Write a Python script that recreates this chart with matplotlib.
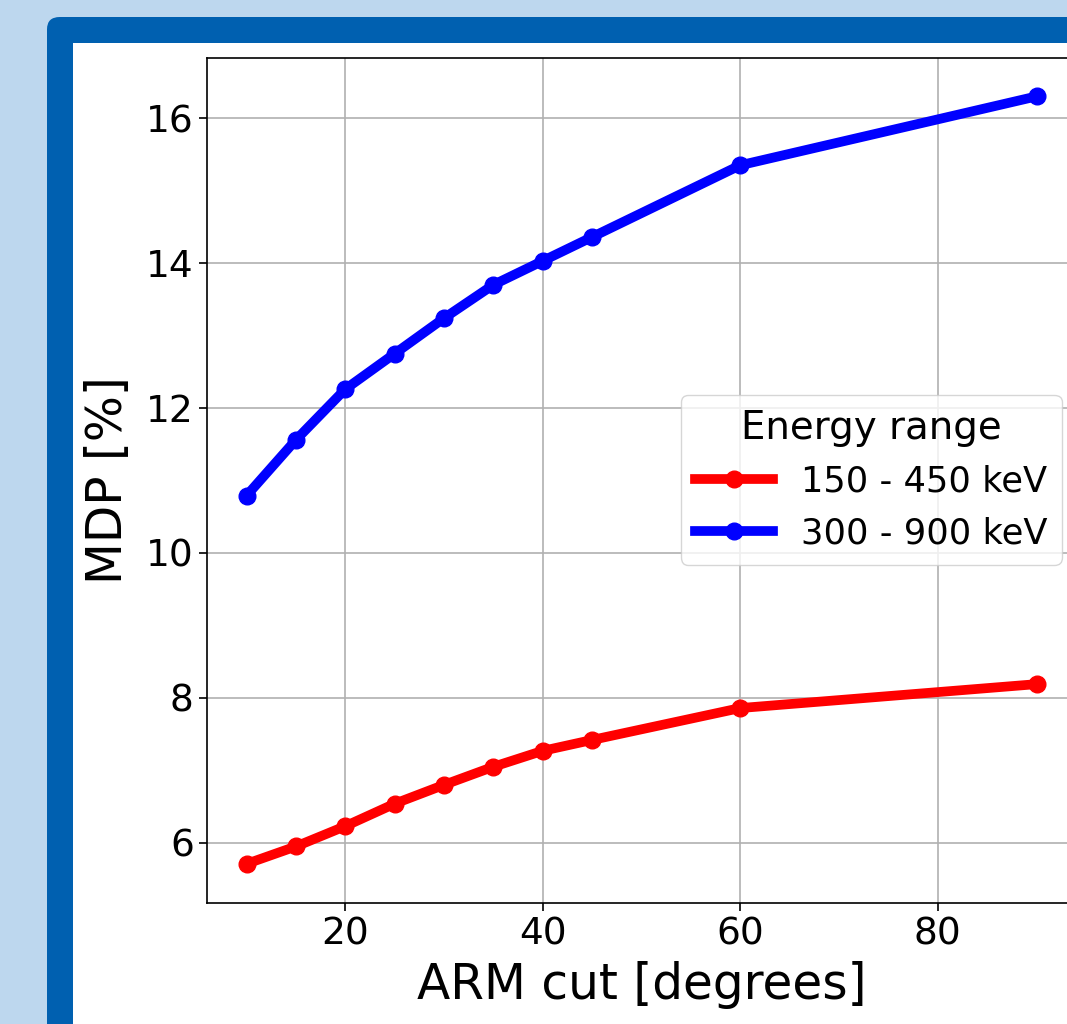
import numpy as np
from matplotlib import pyplot as plt
from matplotlib.patches import FancyBboxPatch, Rectangle

# ARM cut values and MDP for the two energy ranges
arm_cut = [10, 15, 20, 25, 30, 35, 40, 45, 60, 90]
mdp_low = [5.71, 5.95, 6.23, 6.54, 6.80, 7.05, 7.27, 7.42, 7.86, 8.19]
mdp_high = [10.79, 11.56, 12.26, 12.75, 13.24, 13.70, 14.03, 14.36, 15.35, 16.30]
labels = ["150 - 450 keV", "300 - 900 keV"]

W, H = 1067, 1024
fig = plt.figure(figsize=(W / 100, H / 100), dpi=100)
fig.patch.set_facecolor("#bdd7ee")


def fx(px):
    return px / W


def fy(py):
    return 1 - py / H


# blue frame + white panel
frame = FancyBboxPatch((fx(47), fy(1100)), fx(1200) - fx(47), fy(17) - fy(1100),
                       boxstyle="round,pad=0,rounding_size=0.012",
                       transform=fig.transFigure, facecolor="#0060b0",
                       edgecolor="none", zorder=-2)
fig.patches.append(frame)
panel = Rectangle((fx(73), fy(1100)), fx(1200) - fx(73), fy(43) - fy(1100),
                  transform=fig.transFigure, facecolor="white",
                  edgecolor="none", zorder=-1)
fig.patches.append(panel)

ax = fig.add_axes([fx(207), fy(903), fx(1076) - fx(207), fy(58) - fy(903)])
ax.set_zorder(2)
ax.plot(arm_cut, mdp_low, "-o", color="red", lw=7, ms=12, label=labels[0])
ax.plot(arm_cut, mdp_high, "-o", color="blue", lw=7, ms=12, label=labels[1])

ax.set_xlim(6, 94)
ax.set_ylim(5.17, 16.83)
ax.set_xticks([20, 40, 60, 80])
ax.set_yticks([6, 8, 10, 12, 14, 16])
ax.grid(True, color="#b0b0b0", lw=1.2)
ax.set_axisbelow(True)
ax.tick_params(labelsize=27, length=6, width=1.2)
for s in ax.spines.values():
    s.set_linewidth(1.2)
ax.set_xlabel("ARM cut [degrees]", fontsize=35, labelpad=6)
ax.set_ylabel("MDP [%]", fontsize=35, labelpad=10)

ax.legend(title="Energy range", fontsize=25.4, title_fontsize=27.9,
          loc="upper left", bbox_to_anchor=(fx(681), fy(395)),
          bbox_transform=fig.transFigure, borderaxespad=0,
          handlelength=2.2, framealpha=0.8)

fig.savefig("out.png", dpi=100)
